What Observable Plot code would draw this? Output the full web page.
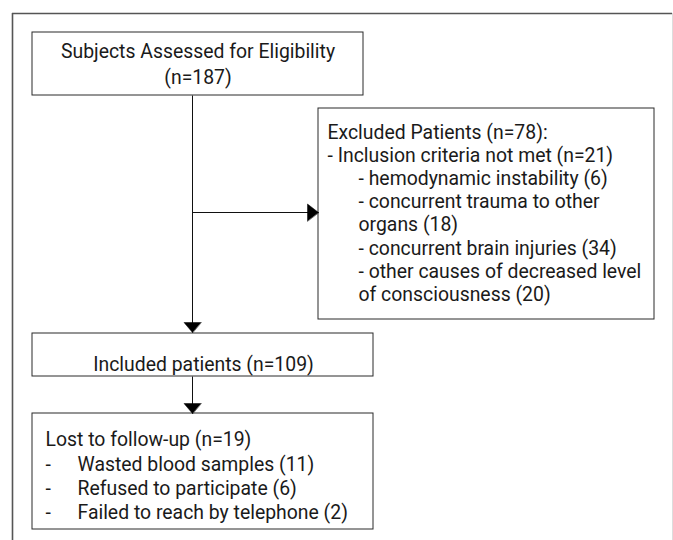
<!DOCTYPE html>
<html>
<head>
<meta charset="utf-8">
<script src="https://cdn.jsdelivr.net/npm/d3@7"></script>
<script src="https://cdn.jsdelivr.net/npm/@observablehq/plot@0.6"></script>
<style>
  html, body { margin: 0; padding: 0; background: #fff; }
  #chart svg { display: block; }
</style>
</head>
<body>
<div id="chart"></div>
<script>
// ---- content (text of each flowchart node) ----
const assessedLines = ["Subjects Assessed for Eligibility", "(n=187)"];
const excludedLines = [
  "Excluded Patients (n=78):",
  "- Inclusion criteria not met (n=21)",
  "- hemodynamic instability (6)",
  "- concurrent trauma to other",
  "organs (18)",
  "- concurrent brain injuries (34)",
  "- other causes of decreased level",
  "of consciousness (20)"
];
const excludedIndent = [0, 0, 1, 1, 1, 1, 1, 1];
const includedLines = ["Included patients (n=109)"];
const lostHeader = "Lost to follow-up (n=19)";
const lostItems = [
  "Wasted blood samples (11)",
  "Refused to participate (6)",
  "Failed to reach by telephone (2)"
];

// ---- layout (pixel geometry of the diagram) ----
const W = 673, H = 540;
const boxes = [
  {id: "assessed", x1: 32,  y1: 32,  x2: 363, y2: 95},
  {id: "excluded", x1: 318, y1: 108, x2: 654, y2: 319},
  {id: "included", x1: 32,  y1: 333, x2: 373, y2: 376},
  {id: "lost",     x1: 32,  y1: 413, x2: 373, y2: 529}
];
const B = Object.fromEntries(boxes.map(b => [b.id, b]));
const trunkX = 192;
const branchY = 212;
const headLen = 10, headHalf = 8.5;

// connectors: lines ending at arrow tips
const links = [
  {x1: trunkX, y1: B.assessed.y2, x2: trunkX, y2: B.included.y1 - 1, dir: "down"},
  {x1: trunkX, y1: branchY, x2: B.excluded.x1, y2: branchY, dir: "right"},
  {x1: trunkX, y1: B.included.y2, x2: trunkX, y2: B.lost.y1, dir: "down"}
];
// arrowhead polygons derived from connector ends
const heads = links.flatMap((l, i) => {
  const tx = l.x2, ty = l.y2;
  const pts = l.dir === "down"
    ? [[tx, ty], [tx - headHalf, ty - headLen], [tx + headHalf, ty - headLen]]
    : [[tx, ty], [tx - headLen - 1, ty - headHalf], [tx - headLen - 1, ty + headHalf]];
  return pts.map(([x, y]) => ({x, y, k: i}));
});

// text rows
const fs = 19.4;
const centered = [];
const leftText = [];
assessedLines.forEach((t, i) => centered.push({t, x: (B.assessed.x1 + B.assessed.x2) / 2, y: 57 + i * 26}));
excludedLines.forEach((t, i) => leftText.push({t, x: excludedIndent[i] ? 358 : 327, y: 138 + i * 23.2}));
includedLines.forEach((t) => centered.push({t, x: (B.included.x1 + B.included.x2) / 2 + 0.5, y: 370}));
leftText.push({t: lostHeader, x: 45, y: 445});
lostItems.forEach((t, i) => {
  leftText.push({t: "-", x: 45, y: 470 + i * 24});
  leftText.push({t, x: 77, y: 470 + i * 24});
});

const chart = Plot.plot({
  width: W,
  height: H,
  margin: 0,
  x: {domain: [0, W], range: [0, W], axis: null},
  y: {domain: [0, H], range: [0, H], axis: null},
  style: {fontFamily: "Roboto, sans-serif", background: "#fff"},
  marks: [
    // outer frame (top & left dark, right faint)
    Plot.ruleY([13], {x1: 12, x2: 672, stroke: "#555", strokeWidth: 1.6}),
    Plot.ruleX([12], {y1: 13, y2: H, stroke: "#555", strokeWidth: 1.6}),
    Plot.ruleX([672], {y1: 13, y2: H, stroke: "#ddd", strokeWidth: 1}),
    // boxes
    Plot.rect(boxes, {x1: "x1", y1: "y1", x2: "x2", y2: "y2", fill: "#fff", stroke: "#2a2a2a", strokeWidth: 1}),
    // connectors
    Plot.link(links, {x1: "x1", y1: "y1", x2: "x2", y2: "y2", stroke: "#111", strokeWidth: 1}),
    Plot.line(heads, {x: "x", y: "y", z: "k", fill: "#000", stroke: "#000", strokeWidth: 0.5, curve: "linear-closed"}),
    // labels
    Plot.text(centered, {x: "x", y: "y", text: "t", textAnchor: "middle", lineAnchor: "bottom", fontSize: fs, fill: "#1a1a1a"}),
    Plot.text(leftText, {x: "x", y: "y", text: "t", textAnchor: "start", lineAnchor: "bottom", fontSize: fs, fill: "#1a1a1a"})
  ]
});
document.getElementById("chart").appendChild(chart);
</script>
</body>
</html>
